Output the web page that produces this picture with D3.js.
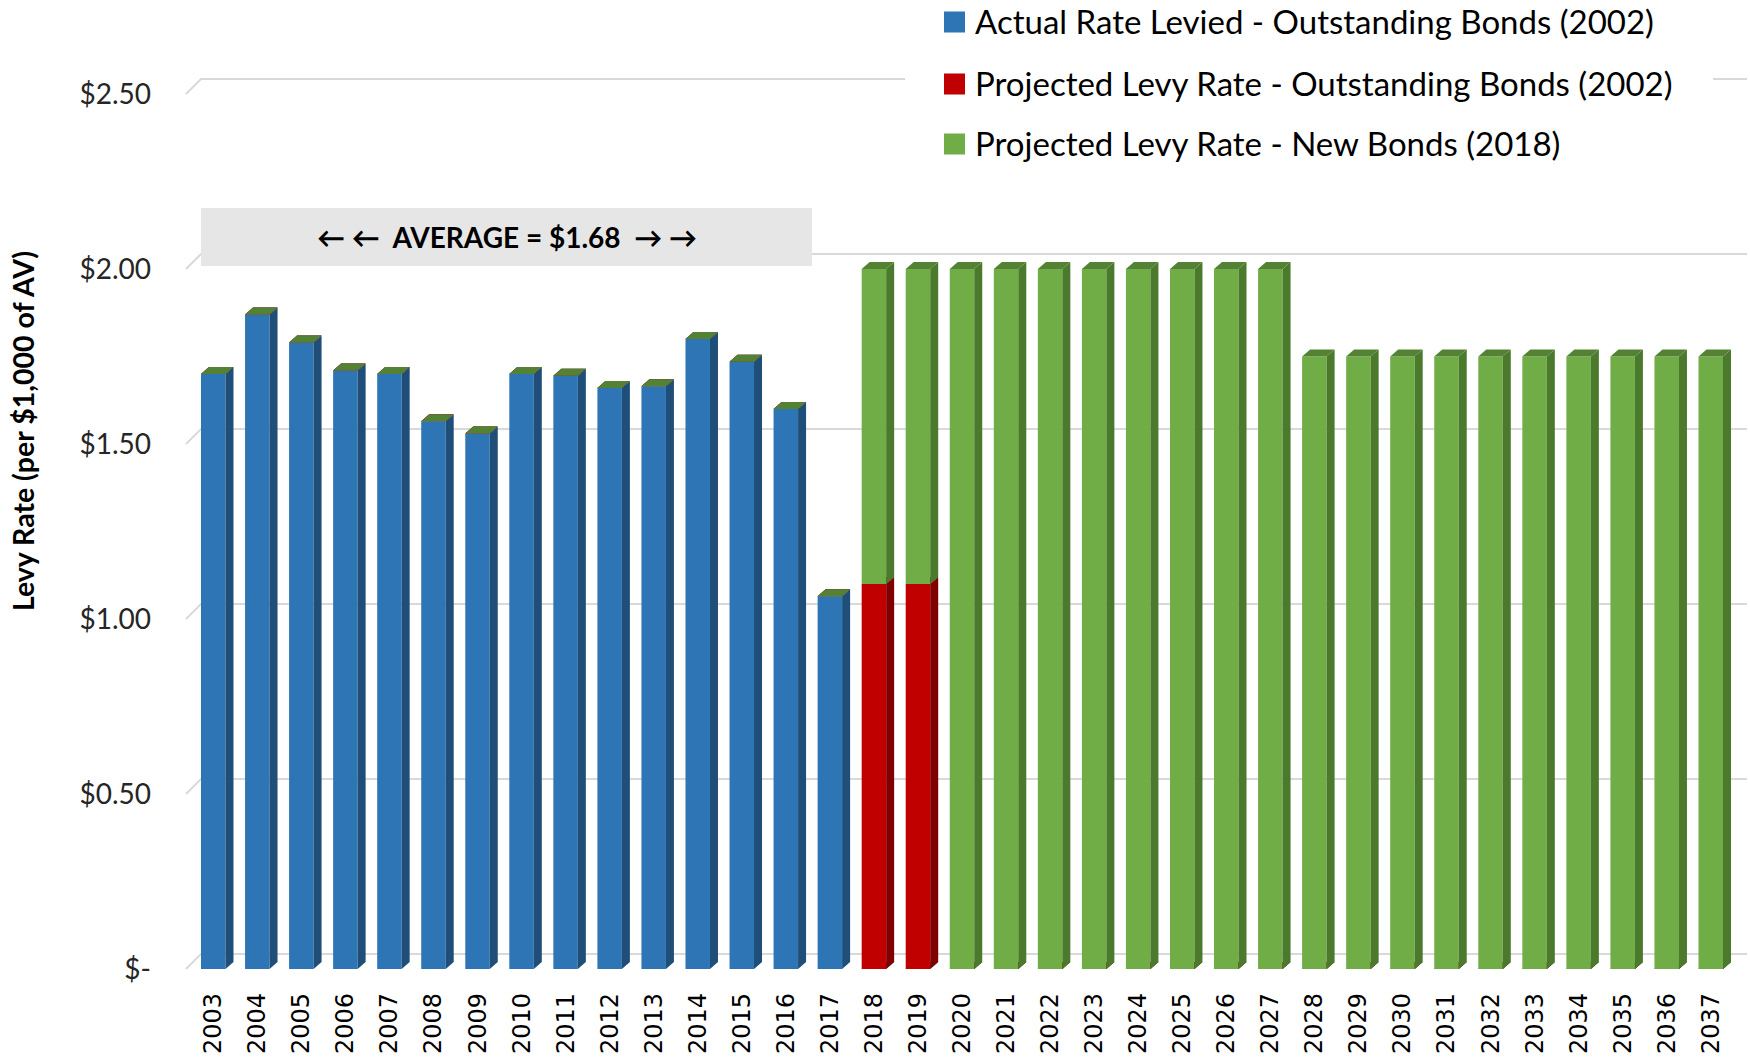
<!DOCTYPE html>
<html>
<head>
<meta charset="utf-8">
<script src="https://cdn.jsdelivr.net/npm/d3@7"></script>
<style>
  html, body { margin: 0; padding: 0; background: #ffffff; }
  svg { display: block; }
</style>
</head>
<body>
<svg id="chart" width="1750" height="1060"></svg>
<script>
// Levy rate per $1,000 of assessed value, by year
const years = [
  "2003","2004","2005","2006","2007","2008","2009","2010","2011","2012",
  "2013","2014","2015","2016","2017","2018","2019","2020","2021","2022",
  "2023","2024","2025","2026","2027","2028","2029","2030","2031","2032",
  "2033","2034","2035","2036","2037"
];
// Actual rate levied - outstanding bonds (2002)
const actualRate = [
  1.70, 1.87, 1.79, 1.71, 1.70, 1.565, 1.53, 1.70, 1.695, 1.66,
  1.665, 1.80, 1.735, 1.60, 1.065, 0, 0, 0, 0, 0,
  0, 0, 0, 0, 0, 0, 0, 0, 0, 0,
  0, 0, 0, 0, 0
];
// Projected levy rate - outstanding bonds (2002)
const projectedOutstanding = [
  0, 0, 0, 0, 0, 0, 0, 0, 0, 0,
  0, 0, 0, 0, 0, 1.10, 1.10, 0, 0, 0,
  0, 0, 0, 0, 0, 0, 0, 0, 0, 0,
  0, 0, 0, 0, 0
];
// Projected levy rate - new bonds (2018)
const projectedNew = [
  0, 0, 0, 0, 0, 0, 0, 0, 0, 0,
  0, 0, 0, 0, 0, 0.90, 0.90, 2.00, 2.00, 2.00,
  2.00, 2.00, 2.00, 2.00, 2.00, 1.75, 1.75, 1.75, 1.75, 1.75,
  1.75, 1.75, 1.75, 1.75, 1.75
];
const seriesNames = [
  "Actual Rate Levied - Outstanding Bonds (2002)",
  "Projected Levy Rate - Outstanding Bonds (2002)",
  "Projected Levy Rate - New Bonds (2018)"
];
const yTicks = [0, 0.5, 1.0, 1.5, 2.0, 2.5];
const averageLabel = "\u2190 \u2190  AVERAGE = $1.68  \u2192 \u2192";
const yTitle = "Levy Rate (per $1,000 of AV)";

// face colours per series: front, side, top
const palette = [
  { front: "#2E75B6", side: "#1F4E79", top: "#3E6FA8" },
  { front: "#C00000", side: "#800000", top: "#A00000" },
  { front: "#70AD47", side: "#4B7A2C", top: "#548235" }
];

const svg = d3.select("#chart");

const y = d3.scaleLinear().domain([0, 2.5]).range([969, 94]);
const x = d3.scaleBand().domain(years).range([201, 1723]).paddingInner(0.444).paddingOuter(0);

// 3-D offsets
const wallDx = 15, wallDy = -15;   // side wall / back wall depth
const barDx = 8, barDy = -7;       // bar depth

// gridlines: short diagonal on the side wall, then the back wall line
const grid = svg.append("g").attr("class", "grid");
yTicks.forEach(t => {
  const yy = y(t);
  grid.append("path")
    .attr("d", `M186,${yy} L${186 + wallDx},${yy + wallDy} L1747,${yy + wallDy}`)
    .attr("fill", "none")
    .attr("stroke", "#d9d9d9")
    .attr("stroke-width", 2);
});

// stacked 3-D columns
const table = years.map((yr, i) => ({
  year: yr, s0: actualRate[i], s1: projectedOutstanding[i], s2: projectedNew[i]
}));
const stacked = d3.stack().keys(["s0", "s1", "s2"])(table);

const bars = svg.append("g").attr("class", "bars");
const bw = x.bandwidth();
table.forEach((row, i) => {
  const g = bars.append("g");
  stacked.forEach((layer, k) => {
    const [v0, v1] = layer[i];
    const x0 = x(row.year), x1 = x0 + bw;
    const yb = y(v0), yt = y(v1);
    const c = palette[k];
    if (v1 > v0) {
      g.append("rect")
        .attr("x", x0).attr("y", yt).attr("width", bw).attr("height", yb - yt)
        .attr("fill", c.front);
      g.append("path")
        .attr("d", `M${x1},${yt} L${x1 + barDx},${yt + barDy} L${x1 + barDx},${yb + barDy} L${x1},${yb} Z`)
        .attr("fill", c.side);
    }
    // top face of this segment (covered by any segment above it)
    g.append("path")
      .attr("d", `M${x0},${yt} L${x1},${yt} L${x1 + barDx},${yt + barDy} L${x0 + barDx},${yt + barDy} Z`)
      .attr("fill", c.top);
  });
});

// y axis labels
const yAxis = d3.axisLeft(y)
  .tickValues(yTicks)
  .tickSize(0)
  .tickPadding(0)
  .tickFormat(d => d === 0 ? "$-" : "$" + d3.format(".2f")(d));
const yg = svg.append("g").attr("transform", "translate(151,0)").call(yAxis);
yg.select(".domain").remove();
yg.selectAll("text")
  .attr("font-family", "Lato, 'Open Sans', sans-serif")
  .attr("font-size", 28)
  .attr("fill", "#262626")
  .attr("dy", "0.35em");

// y axis title
svg.append("text")
  .attr("transform", "translate(34,431) rotate(-90)")
  .attr("text-anchor", "middle")
  .attr("font-family", "Lato, 'Open Sans', sans-serif")
  .attr("font-weight", "bold")
  .attr("font-size", 28.5)
  .attr("fill", "#000")
  .text(yTitle);

// x axis labels (rotated)
const xg = svg.append("g").attr("class", "x-labels");
years.forEach(yr => {
  const cx = x(yr) + bw / 2;
  xg.append("text")
    .attr("transform", `translate(${cx + 8},993) rotate(-90)`)
    .attr("text-anchor", "end")
    .attr("font-family", "'DejaVu Sans', Verdana, sans-serif")
    .attr("font-size", 24)
    .attr("fill", "#000")
    .text(yr);
});

// average banner
svg.append("rect")
  .attr("x", 201).attr("y", 208).attr("width", 611).attr("height", 58)
  .attr("fill", "#e6e6e6");
svg.append("text")
  .attr("x", 507).attr("y", 238)
  .attr("dy", "0.35em")
  .attr("text-anchor", "middle")
  .attr("font-family", "Lato, 'Open Sans', sans-serif")
  .attr("font-weight", "bold")
  .attr("font-size", 28)
  .attr("fill", "#000")
  .attr("xml:space", "preserve")
  .style("white-space", "pre")
  .text(averageLabel);

// legend
const legend = svg.append("g").attr("class", "legend");
legend.append("rect")
  .attr("x", 905).attr("y", 0).attr("width", 808).attr("height", 165)
  .attr("fill", "#ffffff");
const legendY = [22, 84, 144];
seriesNames.forEach((name, k) => {
  legend.append("rect")
    .attr("x", 944).attr("y", legendY[k] - 10.5).attr("width", 21).attr("height", 21)
    .attr("fill", palette[k].front);
  legend.append("text")
    .attr("x", 975).attr("y", legendY[k])
    .attr("dy", "0.35em")
    .attr("font-family", "Lato, 'Open Sans', sans-serif")
    .attr("font-size", 33)
    .attr("fill", "#000")
    .text(name);
});
</script>
</body>
</html>
